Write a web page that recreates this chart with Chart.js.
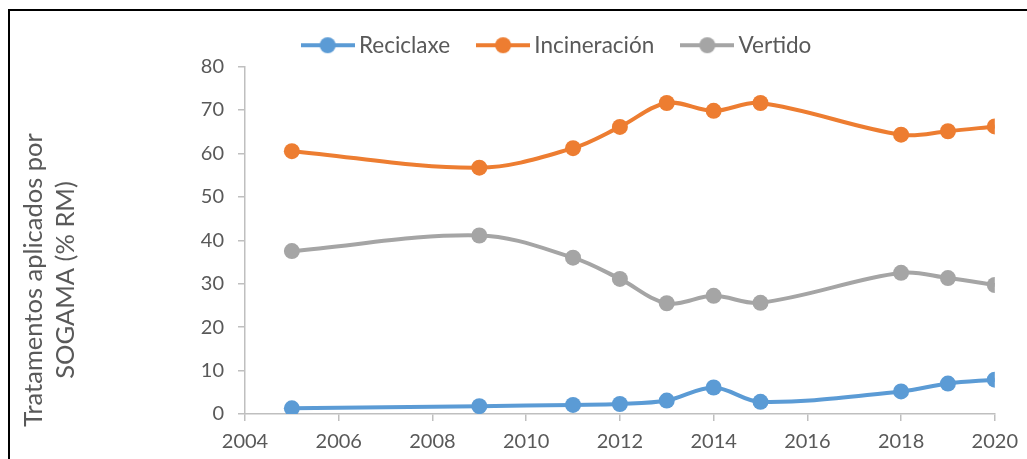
<!DOCTYPE html>
<html lang="gl">
<head>
<meta charset="UTF-8">
<title>Tratamentos SOGAMA</title>
<script src="https://cdn.jsdelivr.net/npm/chart.js"></script>
<style>
  * { margin: 0; padding: 0; box-sizing: border-box; }
  body { background: #fff; width: 1027px; height: 459px; overflow: hidden; position: relative; }
  #wrap { position: absolute; left: 0; top: 0; width: 1027px; height: 459px; }
  .frame {
    position: absolute; left: 8px; top: 9px; width: 1100px; height: 520px;
    border: 2px solid #000; pointer-events: none;
  }
</style>
</head>
<body>
<div id="wrap"><canvas id="chart"></canvas></div>
<div class="frame"></div>
<script>
// years with data
const years = [2005, 2009, 2011, 2012, 2013, 2014, 2015, 2018, 2019, 2020];
const reciclaxe = [1.3, 1.8, 2.1, 2.3, 3.1, 6.1, 2.8, 5.2, 7.0, 7.9];
const incineracion = [60.5, 56.7, 61.2, 66.1, 71.6, 69.8, 71.6, 64.3, 65.1, 66.2];
const vertido = [37.5, 41.1, 36.0, 31.1, 25.5, 27.2, 25.6, 32.5, 31.3, 29.7];
const seriesNames = ['Reciclaxe', 'Incineración', 'Vertido'];
const seriesColors = ['#5B9BD5', '#ED7D31', '#A5A5A5'];
const yTitle = ['Tratamentos aplicados por', 'SOGAMA (% RM)'];

const FONT = 'Lato, "Open Sans", sans-serif';
const TEXT = '#595959';
const AXIS = '#BFBFBF';

function toPoints(vals) {
  return years.map((y, i) => ({ x: y, y: vals[i] }));
}

// legend marker: short line with a dot
function markerImage(color) {
  const c = document.createElement('canvas');
  c.width = 54; c.height = 20;
  const g = c.getContext('2d');
  g.strokeStyle = color;
  g.lineWidth = 4;
  g.beginPath(); g.moveTo(0, 10); g.lineTo(54, 10); g.stroke();
  g.fillStyle = color;
  g.beginPath(); g.arc(27, 10, 8, 0, Math.PI * 2); g.fill();
  return c;
}
const markers = seriesColors.map(markerImage);

const yTitlePlugin = {
  id: 'yTitle',
  afterDraw(chart) {
    const ctx = chart.ctx;
    ctx.save();
    ctx.translate(0, 280);
    ctx.rotate(-Math.PI / 2);
    ctx.fillStyle = TEXT;
    ctx.font = '25.5px ' + FONT;
    ctx.textAlign = 'center';
    ctx.textBaseline = 'alphabetic';
    ctx.fillText(yTitle[0], 0, 42);
    ctx.fillText(yTitle[1], 0, 74);
    ctx.restore();
  }
};

const datasets = [reciclaxe, incineracion, vertido].map((vals, i) => ({
  label: seriesNames[i],
  data: toPoints(vals),
  borderColor: seriesColors[i],
  backgroundColor: seriesColors[i],
  borderWidth: 4,
  pointRadius: 8,
  pointHoverRadius: 8,
  pointBorderWidth: 0,
  tension: 0.35,
  fill: false
}));

new Chart(document.getElementById('chart'), {
  type: 'line',
  data: { datasets },
  plugins: [yTitlePlugin],
  options: {
    responsive: true,
    maintainAspectRatio: false,
    animation: false,
    layout: { padding: { left: 120, right: 28, top: 1, bottom: 0 } },
    plugins: {
      tooltip: { enabled: false },
      legend: {
        position: 'top',
        labels: {
          usePointStyle: true,
          pointStyleWidth: 40,
          padding: 33,
          color: TEXT,
          font: { family: FONT, size: 22.5 },
          generateLabels(chart) {
            return chart.data.datasets.map((d, i) => ({
              text: d.label,
              pointStyle: markers[i],
              fillStyle: d.borderColor,
              strokeStyle: d.borderColor,
              lineWidth: 0,
              fontColor: TEXT,
              hidden: false,
              datasetIndex: i
            }));
          }
        }
      }
    },
    scales: {
      x: {
        type: 'linear',
        min: 2004,
        max: 2020,
        afterFit(scale) { scale.height = 45; },
        ticks: {
          stepSize: 2,
          color: TEXT,
          padding: 9,
          font: { family: FONT, size: 20 },
          callback: v => String(v)
        },
        grid: { drawOnChartArea: false, tickLength: 7, color: AXIS, lineWidth: 1.5 },
        border: { color: AXIS, width: 1.5 }
      },
      y: {
        min: 0,
        max: 80,
        afterFit(scale) { scale.width = 125; },
        ticks: {
          stepSize: 10,
          color: TEXT,
          padding: 14,
          font: { family: FONT, size: 20 }
        },
        grid: { drawOnChartArea: false, tickLength: 7, color: AXIS, lineWidth: 1.5 },
        border: { color: AXIS, width: 1.5 }
      }
    }
  }
});
</script>
</body>
</html>
